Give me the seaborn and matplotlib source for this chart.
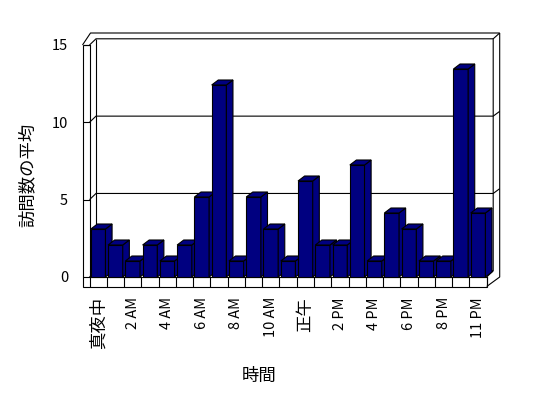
import numpy as np
import pandas as pd
import matplotlib
matplotlib.use("Agg")
import matplotlib.pyplot as plt
import seaborn as sns
from matplotlib.patches import Polygon

# ---------------- data ----------------
categories = ["真夜中", "1 AM", "2 AM", "3 AM", "4 AM", "5 AM", "6 AM", "7 AM",
              "8 AM", "9 AM", "10 AM", "11 AM", "正午", "1 PM", "2 PM", "3 PM",
              "4 PM", "5 PM", "6 PM", "7 PM", "8 PM", "10 PM", "11 PM"]
visits = [3, 2, 1, 2, 1, 2, 5, 12, 1, 5, 3, 1, 6, 2, 2, 7, 1, 4, 3, 1, 1, 13, 4]
y_ticks = [0, 5, 10, 15]
y_label = "訪問数の平均"
x_label = "時間"

# ---------------- style ----------------
sns.set_style("white")
plt.rcParams['font.family'] = ['Noto Sans CJK JP', 'DejaVu Sans']

NAVY = "#000080"
LW = 0.8
W, H = 548, 398
fig = plt.figure(figsize=(W / 100, H / 100), dpi=100)
fig.patch.set_facecolor("white")

L, R, B, T = 89.5, 486.7, 277, 45          # plot box in pixels (y from top)
pos = [L / W, 1 - B / H, (R - L) / W, (B - T) / H]
ax = fig.add_axes(pos)                     # walls, ticks, labels
axb = fig.add_axes(pos)                    # bars

n = len(categories)
X0, X1 = -0.5, n - 0.5
ax.set_xlim(X0, X1)
ax.set_ylim(0, 15)

# ---------------- bars ----------------
df = pd.DataFrame({"hour": categories, "visits": visits})
sns.barplot(data=df, x="hour", y="visits", ax=axb, color=NAVY, saturation=1,
            width=0.85, edgecolor="black", linewidth=LW, errorbar=None)
axb.set_xlim(X0, X1)
axb.set_ylim(0, 14.5)
axb.axis("off")
axb.patch.set_visible(False)

ux = (R - L) / n
uy_w = (B - T) / 15.0
uy_b = (B - T) / 14.5
bdx, bdy = 6.6 / ux, 5.0 / uy_b
bars = list(axb.patches)
for i, p in enumerate(bars):
    x0, w, h = p.get_x(), p.get_width(), p.get_height()
    z = 3 + i * 0.01
    p.set_zorder(z)
    p.set_clip_on(False)
    side = Polygon([(x0 + w, 0), (x0 + w, h), (x0 + w + bdx, h + bdy), (x0 + w + bdx, bdy)],
                   closed=True, fc=NAVY, ec="black", lw=LW, zorder=z, clip_on=False)
    top = Polygon([(x0, h), (x0 + w, h), (x0 + w + bdx, h + bdy), (x0 + bdx, h + bdy)],
                  closed=True, fc=NAVY, ec="black", lw=LW, zorder=z, clip_on=False)
    axb.add_patch(side)
    axb.add_patch(top)

# ---------------- walls ----------------
def P(x, y, px=0.0, py=0.0):
    return (x + px / ux, y + py / uy_w)

def seg(*pts):
    xs = [p[0] for p in pts]
    ys = [p[1] for p in pts]
    ax.plot(xs, ys, color="black", lw=LW, clip_on=False, solid_capstyle="butt",
            solid_joinstyle="miter")

DX, DY = 6.5, 6.2
OX, OY = 13.0, 12.0
FT = 9.5   # floor thickness
WT = 7.0   # left wall thickness

seg(P(X0, 15, -WT, 0), P(X0, 0, -WT, -FT), P(X1, 0, 0, -FT))
seg(P(X0, 15, -WT, 0), P(X0, 15))
seg(P(X1, 0), P(X1, 0, 0, -FT))
seg(P(X1, 0, 0, -FT), P(X1, 0, OX, 0), P(X1, 15, OX, OY))
seg(P(X1, 0), P(X1, 0, DX, DY), P(X1, 15, DX, DY), P(X1, 15, OX, OY))
seg(P(X0, 15, -WT, 0), P(X0, 15, 1, OY), P(X1, 15, OX, OY))
seg(P(X0, 15), P(X0, 15, DX, DY), P(X1, 15, DX, DY))
seg(P(X0, 0, DX, DY), P(X0, 15, DX, DY))
for v in y_ticks[:-1]:
    if v == 0:
        seg(P(X0, v), P(X0, v, DX, DY), P(X1, v, DX, DY))
    else:
        seg(P(X0, v), P(X0, v, DX, DY), P(X1, v, DX, DY), P(X1, v, OX, OY - 1))

for s in ["top", "right"]:
    ax.spines[s].set_visible(False)
for s in ["left", "bottom"]:
    ax.spines[s].set_color("black")
    ax.spines[s].set_linewidth(LW)

# ---------------- ticks ----------------
ax.set_yticks(y_ticks)
ax.set_yticklabels([str(v) for v in y_ticks])
ax.tick_params(axis="y", left=True, direction="out", length=WT * 0.72, width=LW,
               pad=10.4, labelsize=10.5, colors="black")

ax.set_xticks(np.arange(X0, X1 + 0.01, 1.0), minor=True)
ax.set_xticks(range(0, n, 2))
ax.set_xticklabels(categories[::2], rotation=90)
ax.tick_params(axis="x", which="minor", bottom=True, direction="out",
               length=FT * 0.72, width=LW, color="black")
ax.tick_params(axis="x", which="major", bottom=True, length=0, pad=14.4,
               colors="black")
for t in ax.get_xticklabels():
    txt = t.get_text()
    if any(ord(c) > 0x3000 for c in txt):
        t.set_fontsize(12.5)
    else:
        t.set_fontsize(10.5)

fig.text(27.5 / W, 1 - 175 / H, y_label, rotation=90, ha="center", va="center",
         fontsize=12.5, color="black")
fig.text(259 / W, 1 - 376 / H, x_label, ha="center", va="center",
         fontsize=12.5, color="black")

fig.savefig("out.png", dpi=100, facecolor="white")
